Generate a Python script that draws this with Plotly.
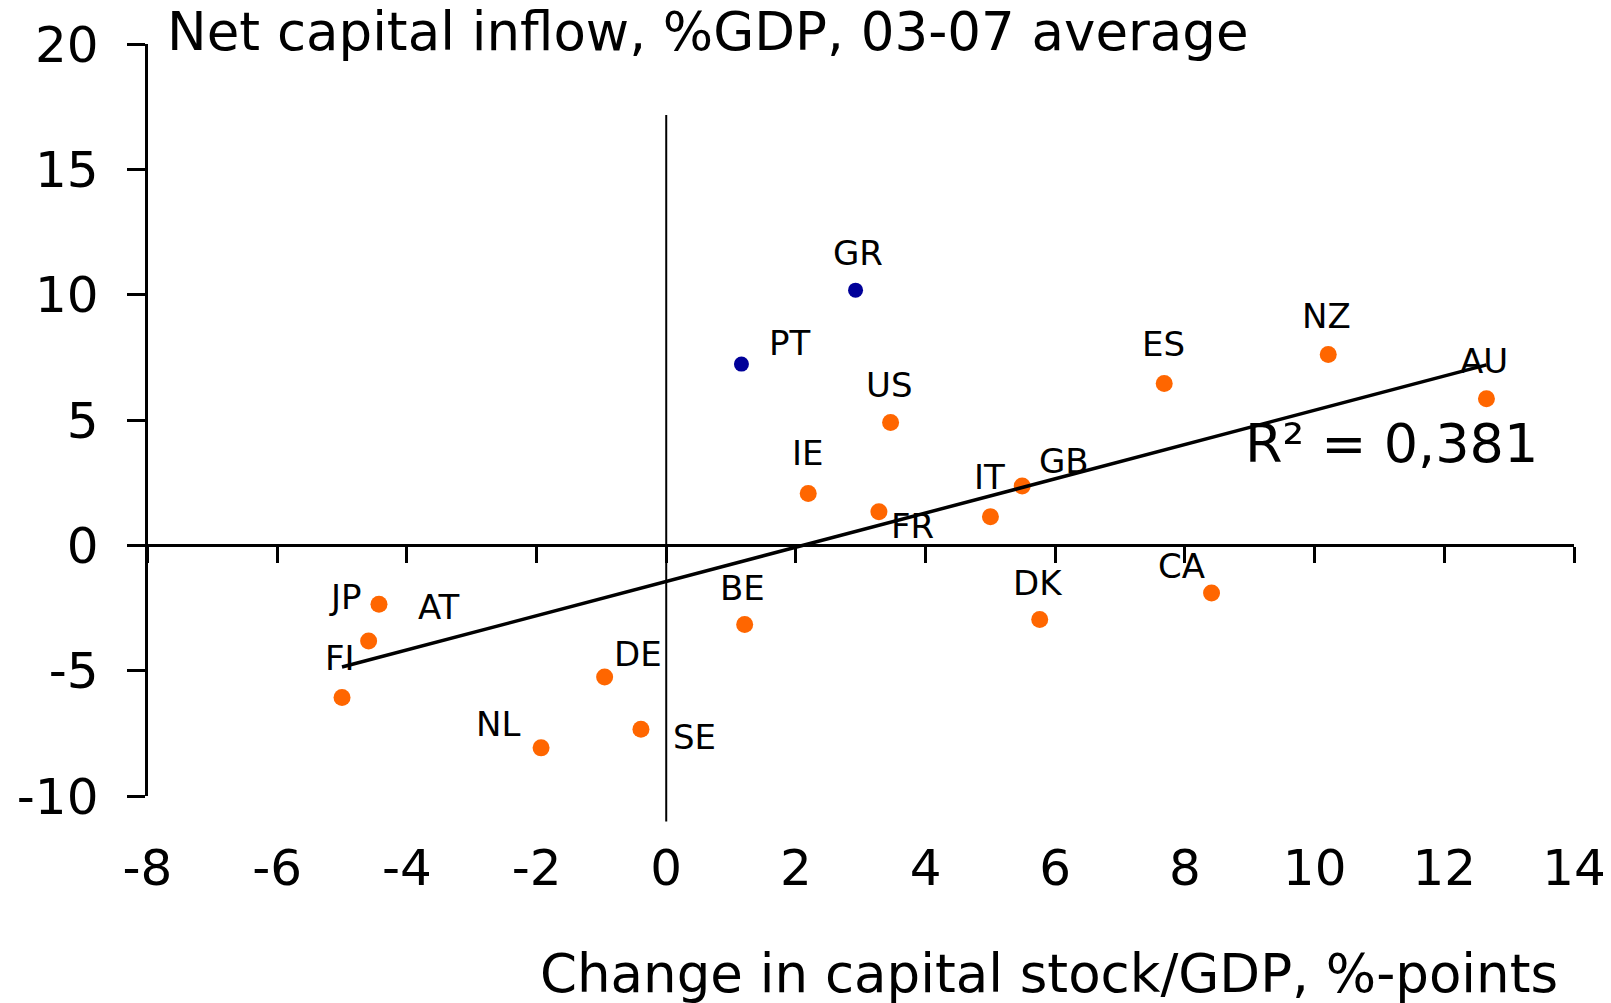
import numpy as np
import plotly.graph_objects as go

# ---------------- data ----------------
orange_countries = ["JP", "AT", "FI", "NL", "DE", "SE", "BE", "IE", "FR", "US",
                    "IT", "GB", "DK", "ES", "CA", "NZ", "AU"]
orange_x = [-4.43, -4.59, -5.00, -1.93, -0.95, -0.39, 1.21, 2.19, 3.28, 3.46,
            5.00, 5.49, 5.76, 7.68, 8.41, 10.21, 12.65]
orange_y = [-2.35, -3.82, -6.07, -8.08, -5.25, -7.34, -3.16, 2.07, 1.34, 4.90,
            1.14, 2.37, -2.96, 6.46, -1.90, 7.61, 5.85]

blue_countries = ["PT", "GR"]
blue_x = [1.16, 2.92]
blue_y = [7.23, 10.18]

x_tickvals = [-8, -6, -4, -2, 0, 2, 4, 6, 8, 10, 12, 14]
x_ticktext = ["-8", "-6", "-4", "-2", "0", "2", "4", "6", "8", "10", "12", "14"]
y_tickvals = [-10, -5, 0, 5, 10, 15, 20]
y_ticktext = ["-10", "-5", "0", "5", "10", "15", "20"]

x_range = [-8, 14]
y_range = [-10, 20]
zero_line_y = [-11.02, 17.17]   # extent of the vertical line at x = 0

r2_text = "R² = 0,381"
title_text = "Net capital inflow, %GDP, 03-07 average"
xtitle_text = "Change in capital stock/GDP, %-points"

# ---------------- styling / layout ----------------
W, H = 1611, 1003
FONT = "DejaVu Sans"
ORANGE = "#FF6600"
BLUE = "#000099"

# label offsets in pixels (dx, dy up)
label_offsets = {
    "GR": (2, 37), "PT": (49, 21), "US": (-2, 38), "ES": (-1, 39), "NZ": (-2, 39),
    "AU": (-2, 38), "IE": (0, 40), "IT": (-1, 40), "GB": (42, 25), "FR": (34, -14),
    "BE": (-2, 37), "DK": (-2, 37), "CA": (-30, 27), "JP": (-33, 7), "AT": (70, 34),
    "FI": (-2, 39), "DE": (33, 23), "NL": (-43, 24), "SE": (54, -8),
}

x_dom = [147.5 / W, 1574 / W]
y_dom = [1 - 796 / H, 1 - 44 / H]


def y_paper(v):
    return y_dom[0] + (v - y_range[0]) / (y_range[1] - y_range[0]) * (y_dom[1] - y_dom[0])


def y_domfrac(v):
    return (v - y_range[0]) / (y_range[1] - y_range[0])


# trendline (linear fit over all points)
all_x = np.array(orange_x + blue_x)
all_y = np.array(orange_y + blue_y)
slope, intercept = np.polyfit(all_x, all_y, 1)
fit_x = [all_x.min(), all_x.max()]
fit_y = [slope * v + intercept for v in fit_x]

fig = go.Figure()
fig.add_trace(go.Scatter(x=orange_x, y=orange_y, mode="markers",
                         marker=dict(color=ORANGE, size=17, line=dict(width=0)),
                         text=orange_countries, showlegend=False, hoverinfo="text+x+y"))
fig.add_trace(go.Scatter(x=blue_x, y=blue_y, mode="markers",
                         marker=dict(color=BLUE, size=15, line=dict(width=0)),
                         text=blue_countries, showlegend=False, hoverinfo="text+x+y"))
fig.add_trace(go.Scatter(x=fit_x, y=fit_y, mode="lines", xaxis="x2", yaxis="y",
                         line=dict(color="black", width=3.5), showlegend=False,
                         hoverinfo="skip"))

annotations = []
for names, xs, ys in ((orange_countries, orange_x, orange_y), (blue_countries, blue_x, blue_y)):
    for n, xv, yv in zip(names, xs, ys):
        dx, dy = label_offsets[n]
        annotations.append(dict(x=xv, y=yv, xref="x", yref="y", text=n, showarrow=False,
                                xshift=dx, yshift=dy, xanchor="center", yanchor="middle",
                                font=dict(family=FONT, size=34, color="black")))

annotations.append(dict(x=165 / W, y=1 - 31 / H, xref="paper", yref="paper", text=title_text,
                        showarrow=False, xanchor="left", yanchor="middle",
                        font=dict(family=FONT, size=53, color="black")))
annotations.append(dict(x=1049 / W, y=1 - 973 / H, xref="paper", yref="paper", text=xtitle_text,
                        showarrow=False, xanchor="center", yanchor="middle",
                        font=dict(family=FONT, size=53, color="black")))
annotations.append(dict(x=1243 / W, y=1 - 444 / H, xref="paper", yref="paper", text=r2_text,
                        showarrow=False, xanchor="left", yanchor="middle",
                        font=dict(family=FONT, size=54, color="black")))

fig.update_layout(
    template="none",
    width=W, height=H,
    margin=dict(l=0, r=0, t=0, b=0, autoexpand=False),
    paper_bgcolor="white", plot_bgcolor="rgba(0,0,0,0)",
    font=dict(family=FONT, color="black"),
    xaxis=dict(domain=x_dom, range=x_range, anchor="free", position=y_paper(0),
               showline=True, linecolor="black", linewidth=3,
               ticks="outside", ticklen=16, tickwidth=3, tickcolor="black",
               tickvals=x_tickvals, showticklabels=False, automargin=False,
               showgrid=False, zeroline=False, fixedrange=True),
    xaxis2=dict(overlaying="x", range=x_range, anchor="free", position=1 - 834 / H,
                showline=False, ticks="", tickvals=x_tickvals, ticktext=x_ticktext,
                tickfont=dict(family=FONT, size=50, color="black"), automargin=False,
                showgrid=False, zeroline=False, fixedrange=True, side="bottom"),
    yaxis=dict(domain=y_dom, range=y_range, anchor="x",
               showline=True, linecolor="black", linewidth=3,
               ticks="outside", ticklen=18, tickwidth=3, tickcolor="black",
               tickvals=y_tickvals, ticktext=y_ticktext, automargin=False,
               ticklabelstandoff=18,
               tickfont=dict(family=FONT, size=50, color="black"),
               showgrid=False, zeroline=False, fixedrange=True),
    shapes=[dict(type="line", xref="x", yref="y domain", x0=0, x1=0,
                 y0=y_domfrac(zero_line_y[0]), y1=y_domfrac(zero_line_y[1]),
                 line=dict(color="black", width=2))],
    annotations=annotations,
)

fig.write_html("out.html", config={"displayModeBar": False},
               post_script="document.body.style.margin='0';document.body.style.overflow='hidden';")
